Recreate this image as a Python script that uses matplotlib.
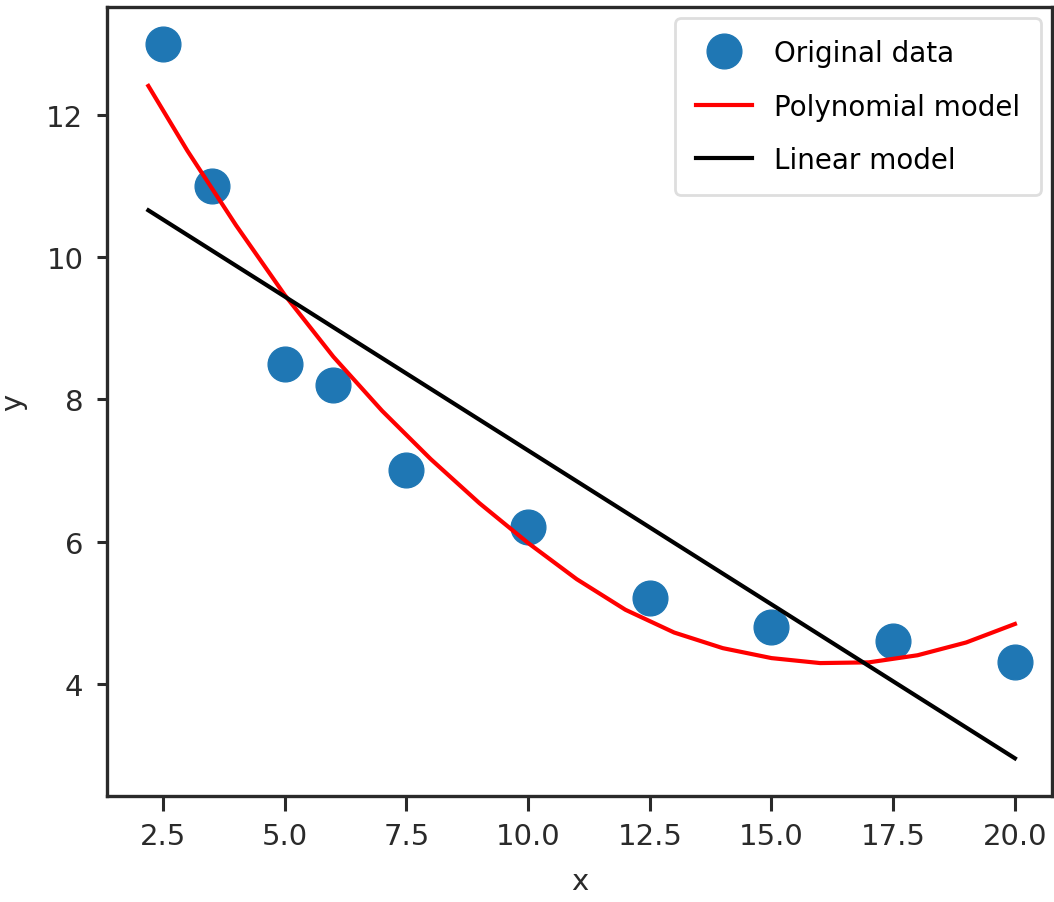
import matplotlib
matplotlib.use("Agg")
import matplotlib.pyplot as plt

# Original data points
data_x = [2.5, 3.5, 5.0, 6.0, 7.5, 10.0, 12.5, 15.0, 17.5, 20.0]
data_y = [13.0, 11.0, 8.5, 8.2, 7.0, 6.2, 5.2, 4.8, 4.6, 4.3]

# Polynomial model curve
poly_x = [2.2, 3, 4, 5, 6, 7, 8, 9, 10, 11, 12, 13, 14, 15, 16, 17, 18, 19, 20]
poly_y = [12.41, 11.50, 10.45, 9.47, 8.60, 7.84, 7.16, 6.54, 5.98, 5.47, 5.04,
          4.72, 4.50, 4.36, 4.29, 4.30, 4.40, 4.58, 4.84]

# Linear model line
lin_x = [2.2, 20.0]
lin_y = [10.66, 2.95]

labels = ["Original data", "Polynomial model", "Linear model"]
x_ticks = [2.5, 5.0, 7.5, 10.0, 12.5, 15.0, 17.5, 20.0]
y_ticks = [4, 6, 8, 10, 12]

plt.rcParams['font.family'] = ['DejaVu Sans']
FS = 21
C = '#2a2a2a'

fig = plt.figure(figsize=(10.54, 9.03), dpi=100)
ax = fig.add_axes([0.1015, 0.1174, 0.8965, 0.8737])

ax.plot(data_x, data_y, 'o', color='#1f77b4', markersize=25, label=labels[0])
ax.plot(poly_x, poly_y, color='#ff0000', linewidth=3, label=labels[1])
ax.plot(lin_x, lin_y, color='black', linewidth=3, label=labels[2])

ax.set_xlim(1.35, 20.76)
ax.set_ylim(2.42, 13.52)
ax.set_xticks(x_ticks)
ax.set_xticklabels([f"{v:.1f}" for v in x_ticks])
ax.set_yticks(y_ticks)
ax.set_yticklabels([str(v) for v in y_ticks])

for s in ax.spines.values():
    s.set_linewidth(2.4)
    s.set_color(C)

ax.tick_params(axis='x', length=11, width=2.2, color=C, pad=8,
               labelsize=FS, labelcolor=C)
ax.tick_params(axis='y', length=7, width=2.2, color=C, pad=10,
               labelsize=FS, labelcolor=C)

ax.set_xlabel("x", fontsize=FS, color=C, labelpad=12)
ax.set_ylabel("y", fontsize=FS, color=C, labelpad=14)

leg = ax.legend(loc='upper right', fontsize=20, numpoints=1,
                handlelength=2.0, borderpad=0.75, labelspacing=0.92,
                handletextpad=0.8, borderaxespad=0.4, frameon=True)
leg.get_frame().set_linewidth(2.0)
leg.get_frame().set_edgecolor('#d6d6d6')

fig.savefig("out.png", dpi=100)
